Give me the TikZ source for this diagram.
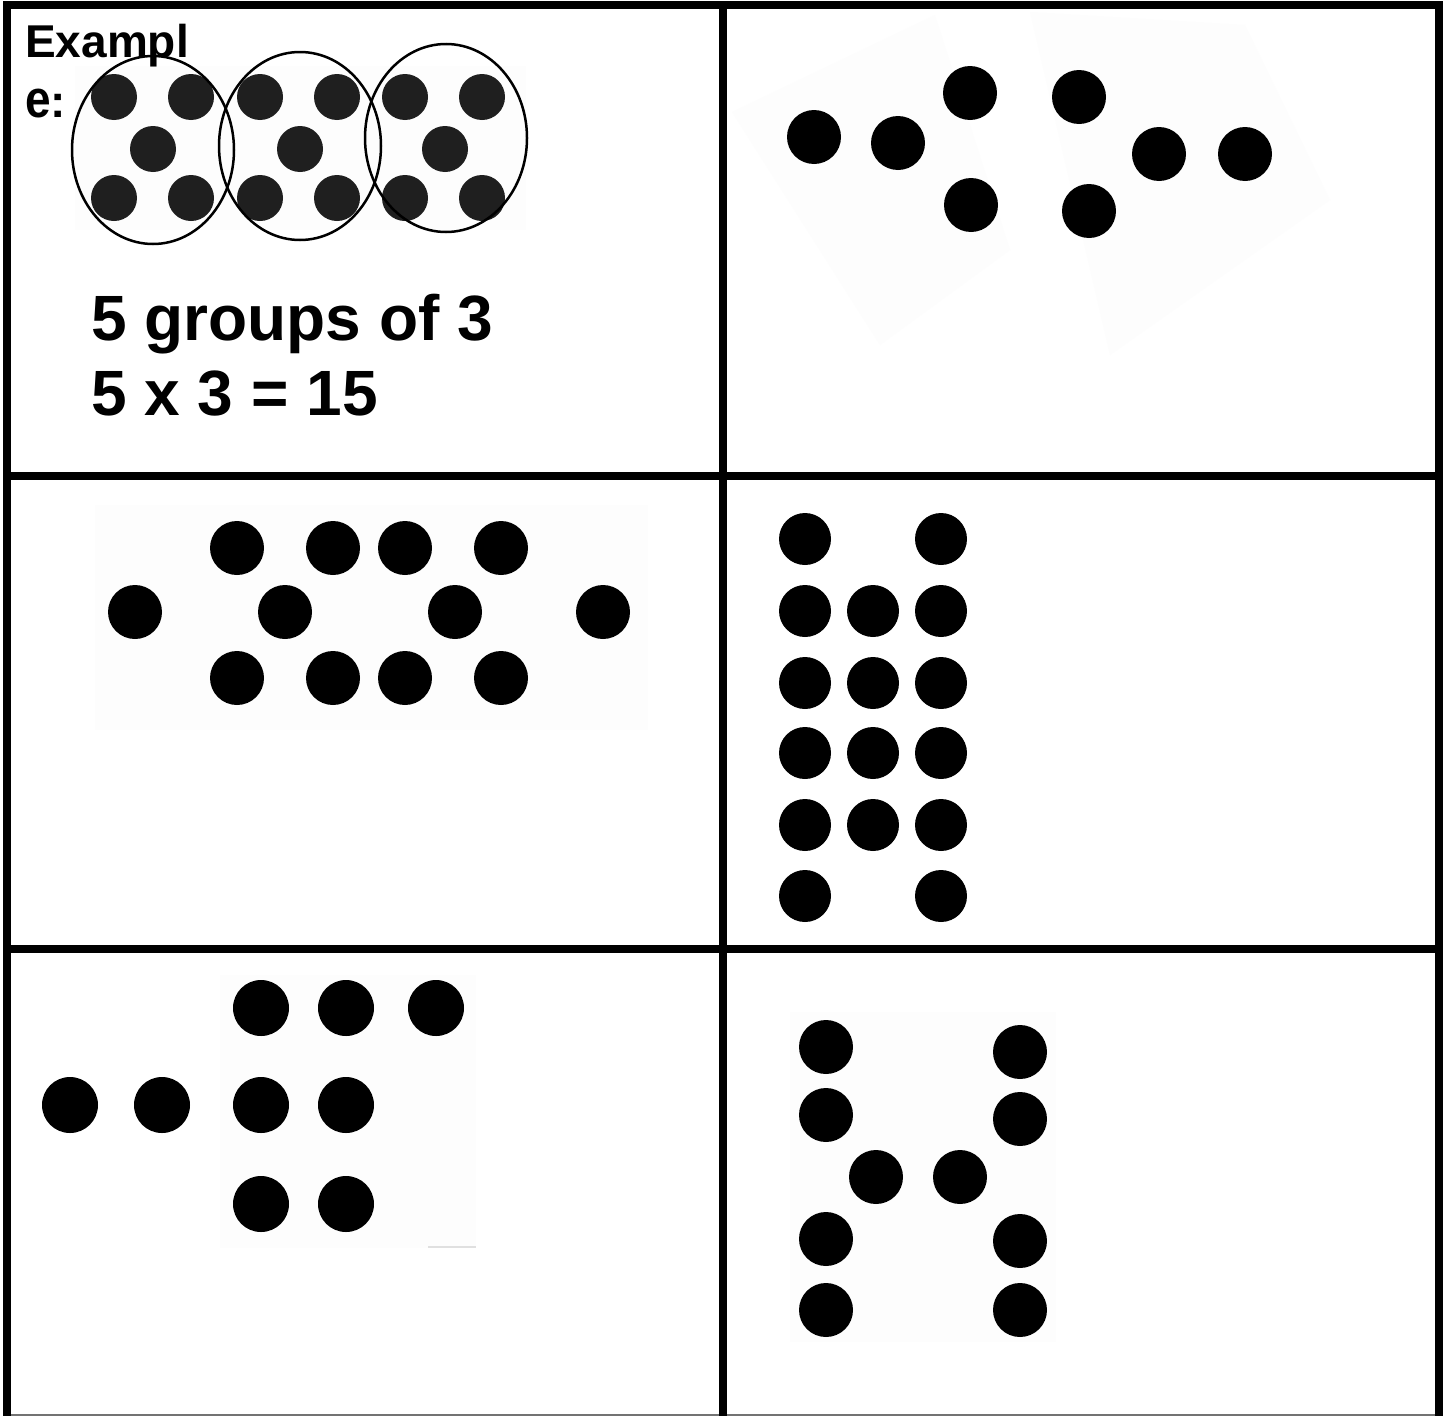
\documentclass[tikz,border=0pt]{standalone}
\usepackage{fontspec}
\setmainfont{Liberation Sans}
\begin{document}
\begin{tikzpicture}[x=1pt,y=-1pt,
  gridline/.style={line width=8pt,black},
  dotA/.style={fill=black!88},
  dotB/.style={fill=black},
  ring/.style={draw=black,line width=2.5pt},
  faint/.style={fill=black!0.8,draw=none},
  bigtext/.style={anchor=base west,inner sep=0pt,font=\fontsize{64}{75}\selectfont\bfseries},
  labtext/.style={anchor=base west,inner sep=0pt,font=\fontsize{46}{50}\selectfont\bfseries}]
\useasboundingbox (0,0) rectangle (1443,1416);
\fill[white] (0,0) rectangle (1443,1416);
% faint scanned backgrounds
\fill[faint] (75,66) rectangle (526,230);
\fill[faint] (732,112) -- (935,15) -- (1010,250) -- (880,345) -- cycle;
\fill[faint] (1030,12) -- (1245,25) -- (1330,200) -- (1110,355) -- cycle;
\fill[faint] (95,505) rectangle (648,730);
\fill[faint] (220,975) rectangle (476,1248);
\fill[faint] (790,1012) rectangle (1056,1342);
\draw[black!12,line width=1.5pt] (428,1247) -- (476,1247);
% top-left example dots
\foreach \cx/\mx in {114/153,260/300,405/445}{
  \pgfmathsetmacro{\rx}{\cx+77}
  \fill[dotA] (\cx,97) circle[radius=23pt];
  \fill[dotA] (\rx,97) circle[radius=23pt];
  \fill[dotA] (\mx,149) circle[radius=23pt];
  \fill[dotA] (\cx,198) circle[radius=23pt];
  \fill[dotA] (\rx,198) circle[radius=23pt];
}
\draw[ring] (153,150) ellipse[x radius=81pt,y radius=94pt];
\draw[ring] (300,146) ellipse[x radius=81pt,y radius=94pt];
\draw[ring] (446,138) ellipse[x radius=81pt,y radius=94pt];
\node[labtext] (ex1) at (25,57) {Exampl};
\node[labtext] (ex2) at (25,117) {\scalebox{1}[1.15]{e}:};
\node[bigtext] (t1) at (91,340) {5 groups of 3};
\node[bigtext] (t2) at (91,415) {5 x 3 = 15};
% top-right
\foreach \p in {(814,137),(898,143),(970,93),(971,205),(1079,97),(1159,154),(1245,154),(1089,211)}
  \fill[dotB] \p circle[radius=27pt];
% middle-left
\foreach \x in {237,333,405,501}{
  \fill[dotB] (\x,548) circle[radius=27pt];
  \fill[dotB] (\x,678) circle[radius=27pt];
}
\foreach \x in {135,285,455,603}
  \fill[dotB] (\x,612) circle[radius=27pt];
% middle-right
\foreach \y in {539,611,683,753,825,896}{
  \fill[dotB] (805,\y) circle[radius=26pt];
  \fill[dotB] (941,\y) circle[radius=26pt];
}
\foreach \y in {611,683,753,825}
  \fill[dotB] (873,\y) circle[radius=26pt];
% bottom-left
\foreach \p in {(261,1008),(346,1008),(436,1008),(70,1105),(162,1105),(261,1105),(346,1105),(261,1204),(346,1204)}
  \fill[dotB] \p circle[radius=28pt];
% bottom-right
\foreach \p in {(826,1047),(1020,1052),(826,1115),(1020,1119),(876,1177),(960,1177),(826,1239),(1020,1241),(826,1310),(1020,1310)}
  \fill[dotB] \p circle[radius=27pt];
% grid
\draw[black!55,line width=1.5pt] (7,1415) -- (1439,1415);
\draw[gridline] (7,1416) -- (7,5) -- (1439,5) -- (1439,1416);
\draw[gridline] (723,5) -- (723,1416);
\draw[gridline] (7,476) -- (1439,476);
\draw[gridline] (7,949) -- (1439,949);
\end{tikzpicture}
\end{document}
